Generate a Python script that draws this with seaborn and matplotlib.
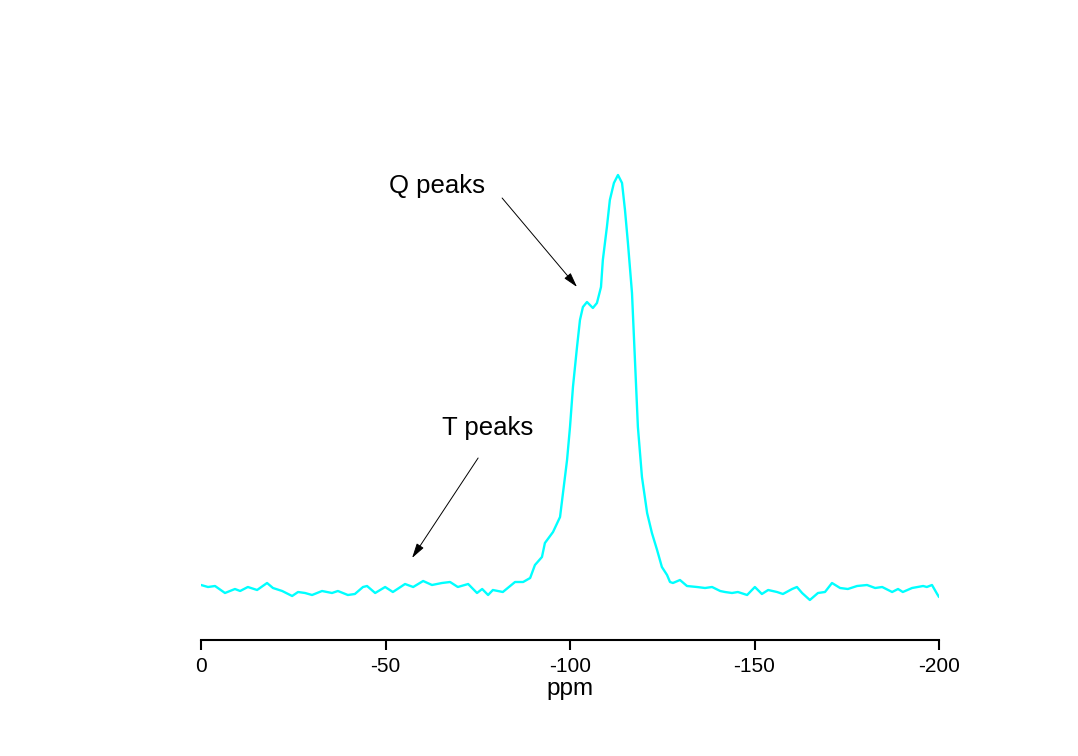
import matplotlib
matplotlib.use("Agg")
import matplotlib.pyplot as plt
import seaborn as sns
import pandas as pd

# Chemical shift (ppm) and intensity (arbitrary units)
ppm = [0.0, -1.9, -3.8, -6.5, -9.2, -10.6, -12.7, -15.2, -17.9, -19.5,
       -22.0, -24.7, -26.3, -28.2, -30.1, -32.8, -35.5, -37.1, -39.8, -41.7,
       -43.9, -45.0, -47.2, -49.9, -52.0, -55.3, -57.5, -60.2, -62.6, -65.3,
       -67.5, -69.6, -72.4, -74.8, -76.2, -77.8, -79.1, -81.8, -85.1, -87.3,
       -89.2, -90.5, -92.4, -93.2, -95.4, -97.3, -98.1, -99.2, -100.0, -100.8,
       -101.9, -102.7, -103.5, -104.6, -106.2, -107.3, -108.4, -108.9, -110.0, -110.8,
       -111.9, -113.0, -114.1, -114.9, -115.7, -116.8, -117.6, -118.4, -119.5, -120.9,
       -122.2, -123.6, -124.9, -126.3, -127.1, -127.9, -129.8, -131.7, -134.4, -136.6,
       -138.5, -140.7, -142.0, -143.9, -145.5, -148.0, -150.1, -152.0, -153.7, -156.1,
       -157.7, -160.2, -161.5, -162.9, -165.0, -167.2, -169.1, -171.0, -173.2, -175.3,
       -177.8, -180.5, -182.7, -184.6, -187.3, -188.9, -190.2, -192.7, -195.7, -196.7,
       -198.1, -199.5, -200.0]
intensity = [5, 3, 4, -3, 1, -1, 3, 0, 7, 2,
             -1, -6, -2, -3, -5, -1, -3, -1, -5, -4,
             3, 4, -3, 3, -2, 6, 3, 9, 5, 7,
             8, 3, 6, -3, 1, -5, 0, -2, 8, 8,
             12, 25, 33, 47, 58, 73, 97, 130, 163, 203,
             243, 270, 283, 288, 282, 287, 303, 330, 363, 390,
             407, 415, 407, 380, 347, 297, 230, 163, 113, 77,
             57, 40, 23, 15, 8, 7, 10, 4, 3, 2,
             3, -1, -2, -3, -2, -5, 3, -4, 0, -2,
             -4, 1, 3, -3, -10, -3, -2, 7, 2, 1,
             4, 5, 2, 3, -2, 1, -2, 2, 4, 3,
             5, -4, -7]

xticks = [0, -50, -100, -150, -200]
xtick_labels = ["0", "-50", "-100", "-150", "-200"]

df = pd.DataFrame({"ppm": ppm, "intensity": intensity})

sns.set_style("white")
plt.rcParams["font.family"] = ["Liberation Sans", "DejaVu Sans"]
plt.rcParams["text.color"] = "black"

fig = plt.figure(figsize=(10.78, 7.56), dpi=100)
ax = fig.add_axes([201 / 1078, 116 / 756, 738 / 1078, 490 / 756])

sns.lineplot(data=df, x="ppm", y="intensity", ax=ax, color="#00FFFF",
             linewidth=1.7, sort=False)

ax.set_xlim(0, -200)
ax.set_ylim(-50, 440)
ax.set_xticks(xticks)
ax.set_xticklabels(xtick_labels)
ax.set_yticks([])
ax.set_ylabel("")
ax.set_xlabel("ppm", fontsize=17.5, labelpad=2, color="black")

for side in ["left", "right", "top"]:
    ax.spines[side].set_visible(False)
ax.spines["bottom"].set_linewidth(1.5)
ax.spines["bottom"].set_color("black")
ax.tick_params(axis="x", direction="out", length=7, width=1.5,
               labelsize=15, pad=5, colors="black", bottom=True)

arrow = dict(arrowstyle="-|>,head_length=0.9,head_width=0.25",
             color="black", lw=0.7, shrinkA=0, shrinkB=0)
ax.annotate("", xy=(-101.9, 303), xytext=(-81.6, 392), arrowprops=arrow)
ax.annotate("", xy=(-57.2, 32), xytext=(-75.1, 132), arrowprops=arrow)
ax.text(-64.0, 404, "Q peaks", fontsize=18.5, ha="center", va="center",
        color="black")
ax.text(-77.6, 162, "T peaks", fontsize=18.5, ha="center", va="center",
        color="black")

fig.savefig("out.png", dpi=100, facecolor="white")
